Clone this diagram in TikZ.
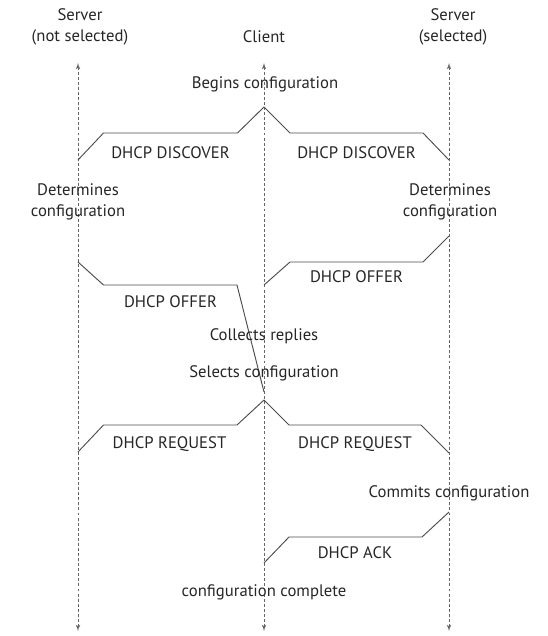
\documentclass[tikz,border=0pt]{standalone}
\usepackage{fontspec}
\setmainfont{PT Sans}
\usetikzlibrary{arrows}
\definecolor{ink}{gray}{0.15}
\tikzstyle{lifeline}=[draw, line width=0.6pt, color=black!60, dash pattern=on 2.2pt off 1.6pt, latex'-latex']
\tikzstyle{msg}=[draw, color=black!70, line width=0.7pt, line join=round]
\tikzstyle{texto}=[text=ink, align=center, inner sep=0pt,
	font=\fontsize{12.5}{15.75}\selectfont]
\newcommand{\lane}[2]{%
	\coordinate (#1t) at (#2,63);
	\coordinate (#1b) at (#2,631);
	\path [lifeline] (#1t) -- (#1b);}

\begin{document}
\begin{tikzpicture}[x=0.75pt, y=-0.75pt]
	\useasboundingbox (0,0) rectangle (547,636);

	% Lifelines
	\lane{sl}{78}
	\lane{cl}{264}
	\lane{sr}{449}
	\node (hsl)[texto] at (80,27) {Server\\(not selected)};
	\node (hcl)[texto] at (264,37) {Client};
	\node (hsr)[texto] at (453,27) {Server\\(selected)};

	% Points where messages leave and reach a lifeline
	\coordinate (c1) at (264,107);
	\coordinate (c2) at (264,285);
	\coordinate (c3) at (264,392);
	\coordinate (c4) at (264,400);
	\coordinate (c5) at (264,563);
	\coordinate (l1) at (78,160);
	\coordinate (l2) at (78,262);
	\coordinate (l3) at (78,452);
	\coordinate (r1) at (449,160);
	\coordinate (r2) at (449,236);
	\coordinate (r3) at (449,453);
	\coordinate (r4) at (449,512);

	% Draw messages
	\path [msg] (c1) -- (237.5,133) -- (103.5,133) -- (l1);
	\path [msg] (c1) -- (290,133) -- (423,133) -- (r1);
	\path [msg] (r2) -- (423,262) -- (290,262) -- (c2);
	\path [msg] (l2) -- (103.5,285) -- (237,285) -- (c3);
	\path [msg] (c4) -- (237,425) -- (103.5,425) -- (l3);
	\path [msg] (c4) -- (289,425) -- (421,425) -- (r3);
	\path [msg] (r4) -- (422,537) -- (289,537) -- (c5);

	% Labels
	\node (t1)[texto] at (265,84) {Begins configuration};
	\node (m1)[texto] at (170.5,152.5) {DHCP DISCOVER};
	\node (m2)[texto] at (356.5,152.5) {DHCP DISCOVER};
	\node (t2)[texto] at (78,202) {Determines\\configuration};
	\node (t3)[texto] at (450,202) {Determines\\configuration};
	\node (m3)[texto] at (356.5,277) {DHCP OFFER};
	\node (m4)[texto] at (170.5,301.5) {DHCP OFFER};
	\node (t4)[texto] at (264,336) {Collects replies};
	\node (t5)[texto] at (264,373) {Selects configuration};
	\node (m5)[texto] at (169.5,444.5) {DHCP REQUEST};
	\node (m6)[texto] at (355,444.5) {DHCP REQUEST};
	\node (t6)[texto] at (449,493) {Commits configuration};
	\node (m7)[texto] at (355,553) {DHCP ACK};
	\node (t7)[texto] at (264,592.5) {configuration complete};

\end{tikzpicture}
\end{document}
